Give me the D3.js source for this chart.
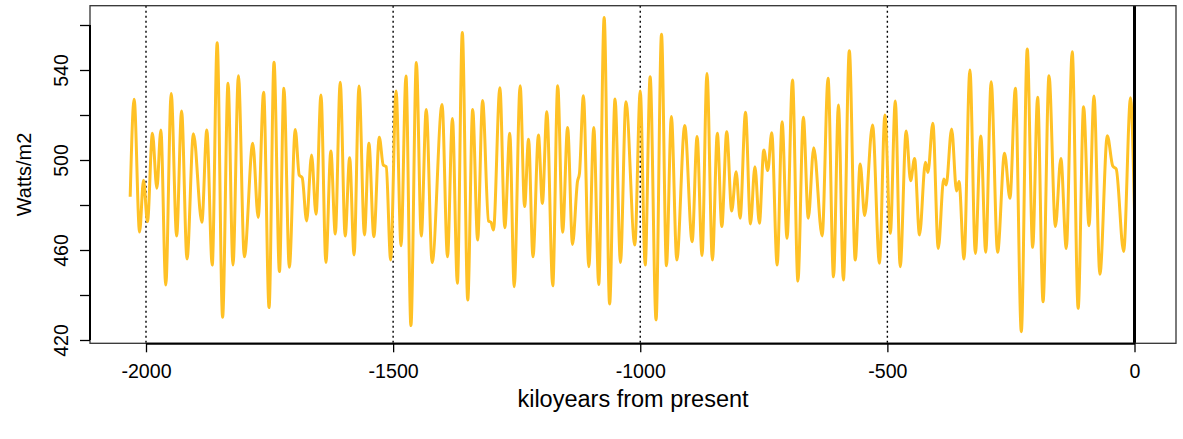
<!DOCTYPE html>
<html>
<head>
<meta charset="utf-8">
<script src="https://cdn.jsdelivr.net/npm/d3@7"></script>
<style>
  html, body { margin: 0; padding: 0; background: #fff; }
  svg { display: block; font-family: "Liberation Sans", Arial, Helvetica, sans-serif; }
</style>
</head>
<body>
<svg id="chart" width="1183" height="439"></svg>
<script>
// kiloyears from present (extrema)
const kyr = [
-2032,-2024,-2013,-2005,-1997,-1987,-1978,-1970,-1960,-1949,-1938,-1928,-1917,-1904,-1887,-1877,-1866,-1856,-1845,-1834,
-1824,-1813,-1801,-1784,-1773,-1762,-1751,-1741,-1730,-1721,-1710,-1698,-1690,-1684,-1675,-1665,-1656,-1646,-1636,-1626,
-1617,-1607,-1597,-1588,-1579,-1569,-1558,-1549,-1539,-1528,-1520,-1514,-1505,-1494,-1484,-1474,-1464,-1453,-1443,-1433,
-1421,-1401,-1390,-1380,-1370,-1360,-1349,-1339,-1329,-1319,-1307,-1302,-1297,-1284,-1274,-1264,-1255,-1243,-1234,-1226,
-1217,-1206,-1198,-1189,-1177,-1167,-1157,-1147,-1137,-1127,-1123,-1115,-1104,-1094,-1084,-1073,-1062,-1051,-1040,-1029,
-1011,-1000,-990,-980,-968,-957,-947,-937,-926,-910,-895,-885,-875,-865,-854,-844,-835,-825,-815,-806,
-798,-787,-777,-768,-759,-750,-742,-734,-723,-713,-703,-692,-681,-670,-660,-649,-632,-620,-609,-599,
-589,-577,-565,-555,-546,-530,-516,-505,-494,-484,-474,-462,-453,-445,-435,-423,-418,-408,-397,-386,
-381,-370,-360,-355,-345,-333,-322,-311,-301,-290,-277,-263,-252,-241,-229,-217,-206,-196,-185,-173,
-160,-149,-138,-126,-114,-103,-92,-82,-70,-55,-44,-37,-22,-8,0
];
// insolation, Watts/m2
const watts = [
483.7,527,468,491,472.6,511.9,487.4,513.3,444.4,529.6,466.2,521.8,456,511.7,472.3,513.3,453.3,552.1,430.1,534.1,
453.3,537.5,457,507.4,474.5,530.1,434.4,543.4,450.4,531.9,452.3,513.6,493.3,492.1,472.9,502.2,475.9,528.9,454.5,504,
467.1,534.5,466.2,501,457.8,532.9,466.7,507.4,465.9,510.1,497.8,497,455.6,530.7,461.9,537.3,426.4,543.3,466.2,522.5,
454.4,524.7,457,518.5,445.2,556.7,437.8,522.5,464.4,526.4,472.9,472.3,468.9,532.1,469.9,511.9,443.7,533,479.3,509.2,
457,511.1,480.7,521.5,444.1,533,467.9,514.5,462.5,490.4,494,528.6,452.6,514.4,444.7,563.3,436,527.1,454.5,525.9,
462.2,530.7,453.3,537,428.9,555.9,453,519.3,455.6,515.3,463.7,510.4,457.5,538.5,455.6,511.9,470.4,512.6,477.3,494.8,
474.1,521.2,471.6,497,471.9,504.4,495.3,512.1,453.3,517,465.2,535.6,446.2,519,474.1,505.5,466.2,536.3,448.1,524.4,
446.7,548.6,455.6,498.2,475.3,515.6,454.1,520,467.4,526.2,452.6,512.9,490.8,500.7,466.7,499,494.5,516.3,460.7,491.6,
488.9,513.8,486.2,490.4,456,540,458.5,510.7,459,534.8,459,503,483,531.9,423.7,549.3,461.2,527.9,437,537.5,
470.4,500.7,460.7,548.1,434.1,523.7,470.8,528.4,449.2,510.8,497.3,496,459.3,527.7,477
];
const xTicks = [-2000, -1500, -1000, -500, 0];
const yTicks = [420, 440, 460, 480, 500, 520, 540, 560];
const yLabels = [420, 460, 500, 540];
const refLines = [-2000, -1500, -1000, -500];
const presentLine = [0];

const svg = d3.select("#chart");
const box = {left: 90, right: 1176, top: 5.7, bottom: 343.3};

const x = d3.scaleLinear().domain([-2000, 0]).range([146, 1134.5]);
const y = d3.scaleLinear().domain([420, 560]).range([340, 25]);

svg.append("defs").append("clipPath").attr("id", "clip")
  .append("rect").attr("x", box.left).attr("y", box.top)
  .attr("width", box.right - box.left).attr("height", box.bottom - box.top);

const plot = svg.append("g").attr("clip-path", "url(#clip)");

// dotted reference lines
plot.selectAll(".ref").data(refLines).enter().append("line")
  .attr("x1", d => x(d)).attr("x2", d => x(d))
  .attr("y1", box.top).attr("y2", box.bottom)
  .attr("stroke", "#000").attr("stroke-width", 1.4)
  .attr("stroke-dasharray", "2,3");

// insolation curve
const pts = kyr.map((t, i) => [t, watts[i]]);
plot.append("path").datum(pts)
  .attr("fill", "none").attr("stroke", "#FFC125").attr("stroke-width", 3)
  .attr("stroke-linejoin", "round")
  .attr("d", d3.line().x(d => x(d[0])).y(d => y(d[1])).curve(d3.curveMonotoneX));

// present-day line
plot.selectAll(".now").data(presentLine).enter().append("line")
  .attr("x1", d => x(d)).attr("x2", d => x(d))
  .attr("y1", box.top).attr("y2", box.bottom)
  .attr("stroke", "#000").attr("stroke-width", 3);

// box
svg.append("rect").attr("x", box.left).attr("y", box.top)
  .attr("width", box.right - box.left).attr("height", box.bottom - box.top)
  .attr("fill", "none").attr("stroke", "#333").attr("stroke-width", 1.3);

// x axis
const gx = svg.append("g").attr("transform", `translate(0,${box.bottom})`)
  .call(d3.axisBottom(x).tickValues(xTicks).tickSize(9).tickSizeOuter(0).tickFormat(d3.format("d")));
gx.select(".domain").attr("stroke", "#000").attr("stroke-width", 2);
gx.selectAll(".tick line").attr("stroke", "#000").attr("stroke-width", 1.3);
gx.selectAll(".tick text").attr("y", 34.4).attr("dy", 0)
  .attr("font-size", 19.6).attr("fill", "#000")
  .attr("font-family", "'Liberation Sans', Arial, sans-serif")
  .text(d => d < 0 ? "-" + Math.abs(d) : d);

// y axis
const gy = svg.append("g").attr("transform", `translate(${box.left},0)`)
  .call(d3.axisLeft(y).tickValues(yTicks).tickSize(10).tickSizeOuter(0)
    .tickFormat(d => yLabels.includes(d) ? String(d) : ""));
gy.select(".domain").remove();
gy.selectAll(".tick line").attr("stroke", "#000").attr("stroke-width", 1.3);
gy.selectAll(".tick text").attr("x", 0).attr("dy", 0)
  .attr("transform", "translate(-21.7,0) rotate(-90)")
  .attr("text-anchor", "middle")
  .attr("font-size", 19.6).attr("fill", "#000")
  .attr("font-family", "'Liberation Sans', Arial, sans-serif");
svg.append("line").attr("x1", box.left).attr("x2", box.left)
  .attr("y1", y(560)).attr("y2", y(420)).attr("stroke", "#000").attr("stroke-width", 2);

// axis titles
svg.append("text").attr("x", 633).attr("y", 406.5)
  .attr("text-anchor", "middle").attr("font-size", 23.5).attr("fill", "#000")
  .text("kiloyears from present");
svg.append("text").attr("transform", "translate(30.5,174.5) rotate(-90)")
  .attr("text-anchor", "middle").attr("font-size", 20).attr("fill", "#000")
  .text("Watts/m2");
</script>
</body>
</html>
